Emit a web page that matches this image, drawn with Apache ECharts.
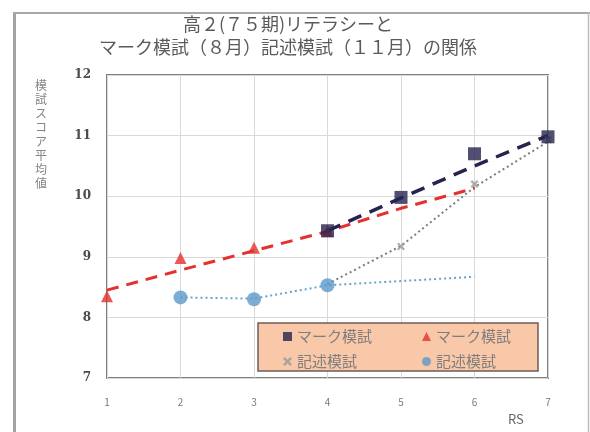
<!DOCTYPE html>
<html>
<head>
<meta charset="utf-8">
<style>
  html, body { margin: 0; padding: 0; background: #ffffff; }
  #chart { width: 590px; height: 432px; }
</style>
<script src="https://cdn.jsdelivr.net/npm/echarts@6/dist/echarts.min.js"></script>
</head>
<body>
<div id="chart"></div>
<script>
// RS levels on the x axis
const rs = [1, 2, 3, 4, 5, 6, 7];
const yTicks = [7, 8, 9, 10, 11, 12];

// マーク模試 (8月) — square group: points and dashed trend
const markSquarePts  = [null, null, null, 9.43, 9.98, 10.70, 10.98];
const markSquareLine = [null, null, null, 9.43, 9.97, 10.50, 11.00];

// マーク模試 (8月) — triangle group
const markTriPts  = [8.35, 8.98, 9.15, 9.42, null, null, null];
const markTriLine = [8.45, 8.78, 9.10, 9.42, 9.80, 10.13, null];

// 記述模試 (11月) — cross group
const kijutsuCrossPts  = [null, null, null, null, 9.17, 10.20, 10.93];
const kijutsuCrossLine = [null, null, null, 8.55, 9.18, 10.15, 10.90];

// 記述模試 (11月) — circle group
const kijutsuCirclePts  = [null, 8.33, 8.30, 8.53, null, null, null];
const kijutsuCircleLine = [null, 8.33, 8.31, 8.53, 8.60, 8.67, null];

const pairs = arr => rs.map((x, i) => [x, arr[i]]).filter(p => p[1] !== null);

const crossPath = 'path://M2,0L5,3L8,0L10,2L7,5L10,8L8,10L5,7L2,10L0,8L3,5L0,2Z';

const NAVY = '#25244f', RED = '#e5302e', GRAY = '#9a9a9a', BLUE = '#5b98c9';
const FONT = '"Noto Sans CJK JP", "Noto Sans", sans-serif';

const chart = echarts.init(document.getElementById('chart'), null, { renderer: 'canvas' });

chart.setOption({
  animation: false,
  backgroundColor: '#ffffff',
  title: {
    text: '高２(７５期)リテラシーと\nマーク模試（８月）記述模試（１１月）の関係',
    left: 283,
    top: 8,
    textAlign: 'center',
    textStyle: { fontFamily: FONT, fontSize: 18, fontWeight: 'normal', color: '#5a5a5a', lineHeight: 23 }
  },
  grid: {
    left: 107, right: 42, top: 75, bottom: 54,
    show: true, borderColor: '#7f7f7f', borderWidth: 2, backgroundColor: '#ffffff'
  },
  xAxis: {
    type: 'value', min: 1, max: 7, interval: 1,
    axisLine: { show: false }, axisTick: { show: false },
    splitLine: { show: true, lineStyle: { color: '#d9d9d9', width: 1 } },
    axisLabel: { margin: 19, fontSize: 10, color: '#7a7a7a', fontFamily: FONT }
  },
  yAxis: {
    type: 'value', min: yTicks[0], max: yTicks[yTicks.length - 1], interval: 1,
    axisLine: { show: false }, axisTick: { show: false },
    splitLine: { show: true, lineStyle: { color: '#d9d9d9', width: 1 } },
    axisLabel: { margin: 16, fontSize: 12, fontWeight: 'bold', color: '#4a4a4a', fontFamily: '"DejaVu Serif", serif' }
  },
  legend: [
    {
      data: ['マーク模試', 'マーク模試 '],
      left: 278, top: 324, itemGap: 50, itemWidth: 9, itemHeight: 9, z: 20,
      formatter: n => n.trim(),
      textStyle: { fontFamily: FONT, fontSize: 15, color: '#7d7d7d' }
    },
    {
      data: ['記述模試', '記述模試 '],
      left: 278, top: 349, itemGap: 65, itemWidth: 9, itemHeight: 9, z: 20,
      formatter: n => n.trim(),
      textStyle: { fontFamily: FONT, fontSize: 15, color: '#7d7d7d' }
    }
  ],
  graphic: [
    // outer frame of the chart panel
    { type: 'line', z: 30, shape: { x1: 14.5, y1: 12, x2: 14.5, y2: 432 }, style: { stroke: '#a3a3a3', lineWidth: 3 } },
    { type: 'line', z: 30, shape: { x1: 13, y1: 13, x2: 590, y2: 13 }, style: { stroke: '#a8a8a8', lineWidth: 2 } },
    { type: 'line', z: 30, shape: { x1: 588.5, y1: 12, x2: 588.5, y2: 432 }, style: { stroke: '#bdbdbd', lineWidth: 1.5 } },
    // legend panel
    { type: 'rect', z: 10, shape: { x: 258, y: 323, width: 280, height: 48 },
      style: { fill: '#f9c8a8', stroke: '#6e5c58', lineWidth: 1.5 } },
    // y axis title, stacked vertically
    { type: 'text', z: 30, left: 35, top: 78,
      style: { text: '模\n試\nス\nコ\nア\n平\n均\n値', font: '12px ' + FONT, fill: '#858585', lineHeight: 14 } },
    // x axis title
    { type: 'text', z: 30, left: 508, top: 413,
      style: { text: 'RS', font: '13px ' + FONT, fill: '#666666' } }
  ],
  series: [
    // trend lines
    { type: 'line', name: 'kijutsuCircleTrend', data: pairs(kijutsuCircleLine), symbol: 'none', z: 2,
      lineStyle: { color: '#6aa3cc', width: 2, type: [2, 3] } },
    { type: 'line', name: 'kijutsuCrossTrend', data: pairs(kijutsuCrossLine), symbol: 'none', z: 2,
      lineStyle: { color: '#7c7c7c', width: 2, type: [2, 3] } },
    { type: 'line', name: 'markTriTrend', data: pairs(markTriLine), symbol: 'none', z: 3,
      lineStyle: { color: RED, width: 3, type: [12, 8] } },
    { type: 'line', name: 'markSquareTrend', data: pairs(markSquareLine), symbol: 'none', z: 3,
      lineStyle: { color: NAVY, width: 3.5, type: [14, 9] } },
    // markers
    { type: 'scatter', name: '記述模試 ', data: pairs(kijutsuCirclePts), symbol: 'circle', symbolSize: 14, z: 5,
      itemStyle: { color: BLUE } },
    { type: 'scatter', name: '記述模試', data: pairs(kijutsuCrossPts), symbol: crossPath, symbolSize: 8, z: 5,
      itemStyle: { color: GRAY } },
    { type: 'scatter', name: 'マーク模試 ', data: pairs(markTriPts), symbol: 'triangle', symbolSize: 12, z: 6,
      itemStyle: { color: RED } },
    { type: 'scatter', name: 'マーク模試', data: pairs(markSquarePts), symbol: 'rect', symbolSize: 13, z: 7,
      itemStyle: { color: NAVY } }
  ]
});
</script>
</body>
</html>
